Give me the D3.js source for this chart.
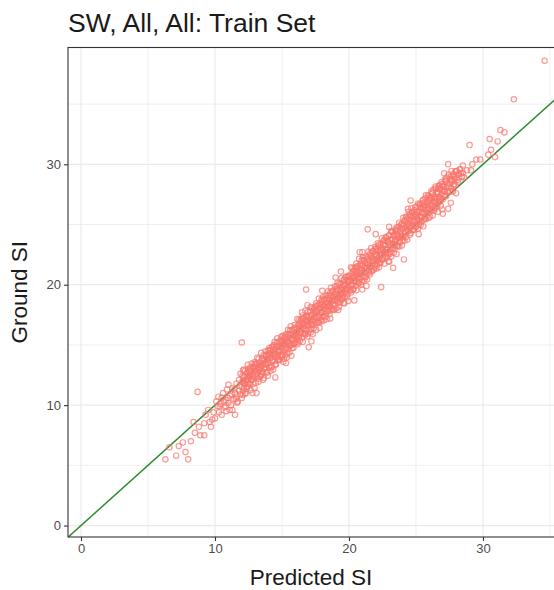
<!DOCTYPE html>
<html><head><meta charset="utf-8">
<script src="https://cdn.jsdelivr.net/npm/d3@7"></script>
<style>body{margin:0;background:#fff}</style>
</head><body>
<svg id="chart" width="554" height="590"></svg>
<script>
const titleText = "SW, All, All: Train Set";
const xLabel = "Predicted SI";
const yLabel = "Ground SI";
const xTicks = [0, 10, 20, 30];
const yTicks = [0, 10, 20, 30];
const xMinor = [5, 15, 25, 35];
const yMinor = [5, 15, 25, 35];
const xDomain = [-0.97, 35.45];
const yDomain = [-0.95, 39.7];
const refLine = [[-5, -5], [45, 45]];
// [predicted, ground] — sparse tails and outliers
const trainPoints = [
[6.3,5.5],[6.6,6.5],[7.1,5.8],[7.6,6.9],[7.8,6.1],[8.0,5.5],[8.2,7.0],[8.5,7.7],[8.7,11.1],[8.8,8.2],[8.9,7.5],[9.2,8.5],[9.2,7.5],[9.3,9.2],[9.7,8.2],[9.8,8.8],[9.5,9.6],[9.9,9.4],[10.0,8.9],[10.2,9.9],[9.6,8.6],[10.1,10.3],[7.3,6.6],[8.4,8.6],
[10.3,9.4],[10.4,10.1],[10.5,9.2],[10.5,10.6],[10.6,11.0],[10.7,9.8],[10.8,9.9],[10.8,10.4],[10.9,11.3],[11.0,11.7],[11.0,10.2],[11.1,9.6],[11.1,10.8],[11.2,10.0],[11.3,9.6],[11.3,11.4],[11.4,10.5],[11.5,9.2],[11.5,11.0],[11.6,10.7],[11.6,11.8],[11.7,10.3],[11.8,11.2],[11.8,12.1],[11.9,12.6],[11.9,10.9],[12.0,11.5],[12.0,10.6],[12.1,12.0],[12.1,11.2],[12.0,15.2],[12.1,12.9],
[10.35,9.9],[10.65,10.3],[10.95,10.6],[11.25,10.9],[11.45,11.3],[11.65,10.2],[11.85,11.6],[10.25,10.7],[10.85,9.5],[11.55,10.5],
[12.2,11.8],[12.2,12.4],[12.3,11.0],[12.3,12.0],[12.4,12.7],[12.4,11.5],[12.5,12.2],[12.5,13.0],[12.6,11.8],[12.6,12.5],[12.7,12.9],[12.7,12.1],[12.8,11.0],[12.8,12.6],[12.9,13.2],[12.9,12.3],[13.0,12.8],[13.0,13.4],[13.1,11.0],[13.1,12.6],[13.2,13.1],[13.2,12.2],[13.3,13.5],[13.3,12.9],[13.4,12.4],[13.4,13.3],[13.5,13.9],[13.5,12.8],[13.6,13.4],[13.6,12.1],[13.7,13.7],[13.7,13.0],[13.8,14.1],[13.8,13.4],[13.9,12.7],[13.9,13.8],[14.0,14.3],[14.0,13.5],
[14.1,13.9],[14.1,14.6],[14.2,13.2],[14.2,14.2],[14.3,14.8],[14.3,13.7],[14.4,14.3],[14.4,15.0],[14.5,14.0],[14.5,13.4],[14.6,14.6],[14.6,15.2],[14.7,14.2],[14.7,13.8],[14.8,14.9],[14.8,14.5],[14.9,15.4],[14.9,14.0],[15.0,14.7],[15.0,15.3],[15.1,14.4],[15.1,13.6],[15.2,15.1],[15.2,15.7],[15.3,14.8],[15.3,15.4],[15.4,14.3],[15.4,15.9],[15.5,15.2],[15.5,14.9],[15.6,15.6],[15.6,16.2],[15.7,15.0],[15.7,14.1],[15.8,15.8],[15.8,15.4],[15.9,16.3],[15.9,15.1],[16.0,15.7],[16.0,16.4],[15.3,13.5],[14.5,12.3],
[16.1,15.5],[16.1,16.0],[16.2,16.6],[16.2,15.2],[16.3,16.3],[16.3,15.8],[16.4,17.0],[16.4,16.1],[16.5,15.6],[16.5,16.7],[16.6,16.4],[16.6,17.2],[16.7,15.9],[16.7,16.6],[16.8,17.4],[16.8,16.2],[16.9,16.9],[16.9,15.7],[17.0,17.3],[17.0,16.6],[17.1,17.8],[17.1,16.9],[17.2,16.3],[17.2,17.5],[17.3,17.1],[17.3,16.7],[17.4,18.0],[17.4,17.3],[17.5,16.8],[17.5,17.7],[17.6,18.3],[17.6,17.2],[17.7,16.9],[17.7,17.9],[17.8,18.4],[17.8,17.5],[17.9,17.1],[17.9,18.1],[18.0,18.6],[18.0,17.7],[16.9,18.3],[16.5,17.7],[17.3,15.9],[17.8,16.4],[16.8,19.6],[17.0,14.8],[17.2,15.3],
[18.1,18.2],[18.1,17.4],[18.2,18.8],[18.2,18.0],[18.3,17.6],[18.3,18.5],[18.4,19.1],[18.4,18.2],[18.5,17.8],[18.5,18.9],[18.6,18.5],[18.6,19.3],[18.7,18.0],[18.7,18.7],[18.8,19.5],[18.8,18.4],[18.9,19.0],[18.9,17.9],[19.0,19.4],[19.0,18.7],[19.1,19.9],[19.1,19.0],[19.2,18.5],[19.2,19.6],[19.3,19.2],[19.3,18.8],[19.4,20.1],[19.4,19.4],[19.5,18.9],[19.5,19.8],[19.6,20.4],[19.6,19.3],[19.7,19.0],[19.7,20.0],[19.8,20.6],[19.8,19.6],[19.9,19.2],[19.9,20.2],[20.0,20.7],[20.0,19.8],[18.6,17.2],[19.2,17.9],[18.0,19.5],[19.0,20.6],
[20.1,20.3],[20.1,19.5],[20.2,20.9],[20.2,20.0],[20.3,19.6],[20.3,20.6],[20.4,21.2],[20.4,20.3],[20.5,19.9],[20.5,20.9],[20.6,20.6],[20.6,21.4],[20.7,20.1],[20.7,20.8],[20.8,21.6],[20.8,20.5],[20.9,21.1],[20.9,20.0],[21.0,21.6],[21.0,22.7],[21.1,22.0],[21.1,21.1],[21.2,20.6],[21.2,21.8],[21.3,21.4],[21.3,20.9],[21.4,22.3],[21.4,24.6],[21.5,21.0],[21.5,22.0],[21.6,22.6],[21.6,21.5],[21.7,21.1],[21.7,22.2],[21.8,22.8],[21.8,21.8],[21.9,21.4],[21.9,22.5],[22.0,23.0],[22.0,22.0],[20.4,18.7],[21.0,19.6],[22.4,19.8],[19.4,21.1],[19.6,18.5],[20.8,22.7],[21.3,19.9],
[22.1,21.6],[22.1,22.4],[22.2,23.2],[22.2,22.1],[22.3,21.8],[22.3,22.8],[22.4,23.4],[22.4,22.5],[22.5,22.1],[22.5,23.0],[22.6,23.7],[22.6,22.7],[22.7,22.3],[22.7,23.3],[22.8,23.9],[22.8,22.9],[22.9,22.5],[22.9,23.5],[23.0,24.1],[23.0,24.8],[23.1,23.2],[23.1,22.7],[23.2,23.8],[23.2,24.4],[23.3,21.4],[23.3,23.4],[23.4,24.0],[23.4,23.0],[23.5,24.6],[23.5,23.7],[23.6,24.2],[23.6,23.2],[23.7,24.8],[23.7,23.9],[23.8,24.4],[23.8,23.5],[23.9,25.0],[23.9,24.1],[24.0,24.6],[24.0,23.7],[24.1,22.1],[22.0,24.2],[23.0,21.9],[24.4,26.3],
[24.1,24.9],[24.2,25.3],[24.2,24.3],[24.3,24.8],[24.3,25.6],[24.4,24.5],[24.4,25.1],[24.5,25.8],[24.5,24.9],[24.6,24.3],[24.6,25.4],[24.7,26.0],[24.7,25.1],[24.8,24.6],[24.8,25.7],[24.9,26.2],[24.9,25.3],[25.0,24.8],[25.0,25.9],[25.1,26.5],[25.1,25.5],[25.2,25.0],[25.2,26.1],[25.3,26.7],[25.3,25.7],[25.4,25.2],[25.4,26.3],[25.5,27.0],[25.5,26.0],[25.6,25.4],[25.6,26.6],[25.7,27.2],[25.7,26.2],[25.8,25.7],[25.8,26.8],[25.9,27.4],[25.9,26.4],[26.0,26.0],[26.0,27.0],[24.6,27.0],[25.2,24.2],
[26.1,26.6],[26.1,27.2],[26.2,26.2],[26.2,27.6],[26.3,26.9],[26.3,27.9],[26.4,26.5],[26.4,27.3],[26.5,28.0],[26.5,27.0],[26.6,26.7],[26.6,27.7],[26.7,28.2],[26.7,27.3],[26.8,26.9],[26.8,28.0],[26.9,28.5],[26.9,27.5],[27.0,27.1],[27.0,28.2],[27.0,25.9],[27.1,29.25],[27.1,27.8],[27.2,28.6],[27.2,27.4],[27.3,28.1],[27.3,28.9],[27.4,30.0],[27.4,26.3],[27.4,27.7],[27.5,28.4],[27.6,29.0],[27.6,28.0],[27.7,28.7],[27.8,29.2],[27.8,28.2],[27.9,28.8],[28.0,29.4],[28.1,28.7],[28.2,29.2],[28.3,29.6],[28.4,29.0],[28.5,29.9],[28.5,29.3],[28.6,28.9],[28.8,29.5],[29.0,31.6],[29.1,29.5],[29.2,30.0],[29.5,30.4],[29.8,30.4],[30.4,30.8],[30.5,32.1],[30.6,31.2],[30.9,30.6],[31.1,31.9],[31.3,32.85],[31.6,32.65],[32.3,35.4],[34.6,38.6],[28.0,27.6],[27.6,26.8]
];
// [predicted, ground] — dense core of the band
const corePoints = [
[12.05,10.85],[12.05,11.95],[12.05,12.45],[12.15,12.35],[12.15,11.45],[12.15,12.95],[12.25,11.75],[12.25,12.85],[12.25,10.95],[12.35,12.35],[12.35,11.35],[12.35,12.05],[12.45,13.35],[12.45,12.05],[12.45,11.55],[12.55,11.75],[12.55,12.85],[12.55,12.35],[12.65,13.15],[12.65,11.25],[12.65,12.75],[12.75,12.15],[12.75,12.45],[12.75,13.45],[12.85,13.15],[12.85,11.75],[12.85,12.35],[12.95,11.45],[12.95,13.05],[12.95,13.55],
[13.05,11.85],[13.05,12.95],[13.05,13.45],[13.15,13.35],[13.15,12.45],[13.15,13.95],[13.25,12.75],[13.25,13.85],[13.25,11.95],[13.35,13.35],[13.35,12.35],[13.35,13.05],[13.45,14.35],[13.45,13.05],[13.45,12.55],[13.55,12.75],[13.55,13.85],[13.55,13.35],[13.65,14.15],[13.65,12.25],[13.65,13.75],[13.75,13.15],[13.75,13.45],[13.75,14.45],[13.85,14.15],[13.85,12.75],[13.85,13.35],[13.95,12.45],[13.95,14.05],[13.95,14.55],
[14.05,14.15],[14.05,13.15],[14.05,14.75],[14.15,12.85],[14.15,13.95],[14.15,14.55],[14.25,14.85],[14.25,13.65],[14.25,13.15],[14.35,14.25],[14.35,12.95],[14.35,14.65],[14.45,13.65],[14.45,15.25],[14.45,14.15],[14.55,14.95],[14.55,14.05],[14.55,13.35],[14.65,13.95],[14.65,14.85],[14.65,15.55],[14.75,14.55],[14.75,13.75],[14.75,15.25],[14.85,13.75],[14.85,14.85],[14.85,14.45],[14.95,15.65],[14.95,14.15],[14.95,15.05],
[15.05,15.15],[15.05,14.15],[15.05,15.75],[15.15,13.85],[15.15,14.95],[15.15,15.55],[15.25,15.85],[15.25,14.65],[15.25,14.15],[15.35,15.25],[15.35,13.95],[15.35,15.65],[15.45,14.65],[15.45,16.25],[15.45,15.15],[15.55,15.95],[15.55,15.05],[15.55,14.35],[15.65,14.95],[15.65,15.85],[15.65,16.55],[15.75,15.55],[15.75,14.75],[15.75,16.25],[15.85,14.75],[15.85,15.85],[15.85,15.45],[15.95,16.65],[15.95,15.15],[15.95,15.75],
[16.05,15.25],[16.05,16.45],[16.05,16.05],[16.15,17.15],[16.15,15.75],[16.15,15.05],[16.25,16.45],[16.25,17.05],[16.25,15.65],[16.35,16.05],[16.35,15.35],[16.35,16.85],[16.45,17.15],[16.45,16.35],[16.45,15.95],[16.55,15.25],[16.55,16.85],[16.55,17.45],[16.65,16.75],[16.65,15.95],[16.65,17.25],[16.75,16.35],[16.75,17.85],[16.75,15.85],[16.85,17.35],[16.85,16.65],[16.85,17.05],[16.95,15.95],[16.95,17.75],[16.95,16.65],
[17.05,16.25],[17.05,17.45],[17.05,17.05],[17.15,18.15],[17.15,16.75],[17.15,16.05],[17.25,17.45],[17.25,18.05],[17.25,16.65],[17.35,17.05],[17.35,16.35],[17.35,17.85],[17.45,18.15],[17.45,17.35],[17.45,16.95],[17.55,16.25],[17.55,17.85],[17.55,18.45],[17.65,17.75],[17.65,16.95],[17.65,18.25],[17.75,17.35],[17.75,18.85],[17.75,16.85],[17.85,18.35],[17.85,17.65],[17.85,18.05],[17.95,16.95],[17.95,18.75],[17.95,17.65],
[18.05,18.35],[18.05,17.35],[18.05,18.95],[18.15,17.05],[18.15,18.15],[18.15,18.75],[18.25,19.05],[18.25,17.85],[18.25,17.35],[18.35,18.45],[18.35,17.15],[18.35,18.85],[18.45,17.85],[18.45,19.45],[18.45,18.35],[18.55,19.15],[18.55,18.25],[18.55,17.55],[18.65,18.15],[18.65,19.05],[18.65,19.75],[18.75,18.75],[18.75,17.95],[18.75,19.45],[18.85,17.95],[18.85,19.05],[18.85,18.65],[18.95,19.85],[18.95,18.35],[18.95,19.25],
[19.05,18.05],[19.05,19.15],[19.05,19.65],[19.15,19.55],[19.15,18.65],[19.15,20.15],[19.25,18.95],[19.25,20.05],[19.25,18.15],[19.35,19.55],[19.35,18.55],[19.35,19.25],[19.45,20.55],[19.45,19.25],[19.45,18.75],[19.55,18.95],[19.55,20.05],[19.55,19.55],[19.65,20.35],[19.65,18.45],[19.65,19.95],[19.75,19.35],[19.75,19.65],[19.75,20.65],[19.85,20.35],[19.85,18.95],[19.85,19.55],[19.95,18.65],[19.95,20.25],[19.95,20.75],
[20.05,19.55],[20.05,20.75],[20.05,20.35],[20.15,21.45],[20.15,20.05],[20.15,19.35],[20.25,20.75],[20.25,21.35],[20.25,19.95],[20.35,20.35],[20.35,19.65],[20.35,21.15],[20.45,21.45],[20.45,20.65],[20.45,20.25],[20.55,19.55],[20.55,21.15],[20.55,21.75],[20.65,21.05],[20.65,20.25],[20.65,21.55],[20.75,20.65],[20.75,22.15],[20.75,20.15],[20.85,21.65],[20.85,20.95],[20.85,21.35],[20.95,20.25],[20.95,22.05],[20.95,20.95],
[21.05,21.65],[21.05,20.65],[21.05,22.25],[21.15,20.35],[21.15,21.45],[21.15,22.05],[21.25,22.35],[21.25,21.15],[21.25,20.65],[21.35,21.75],[21.35,20.45],[21.35,22.15],[21.45,21.15],[21.45,22.75],[21.45,21.65],[21.55,22.45],[21.55,21.55],[21.55,20.85],[21.65,21.45],[21.65,22.35],[21.65,23.05],[21.75,22.05],[21.75,21.25],[21.75,22.75],[21.85,21.25],[21.85,22.35],[21.85,21.95],[21.95,23.15],[21.95,21.65],[21.95,22.55],
[22.05,21.35],[22.05,22.45],[22.05,22.95],[22.15,22.85],[22.15,21.95],[22.15,23.45],[22.25,22.25],[22.25,23.35],[22.25,21.45],[22.35,22.85],[22.35,21.85],[22.35,22.55],[22.45,23.85],[22.45,22.55],[22.45,22.05],[22.55,22.25],[22.55,23.35],[22.55,22.85],[22.65,23.65],[22.65,21.75],[22.65,23.25],[22.75,22.65],[22.75,22.95],[22.75,23.95],[22.85,23.65],[22.85,22.25],[22.85,22.85],[22.95,21.95],[22.95,23.55],[22.95,24.05],
[23.05,22.55],[23.05,23.75],[23.05,23.35],[23.15,24.45],[23.15,23.05],[23.15,22.35],[23.25,23.75],[23.25,24.35],[23.25,22.95],[23.35,23.35],[23.35,22.65],[23.35,24.15],[23.45,24.45],[23.45,23.65],[23.45,23.25],[23.55,22.55],[23.55,24.15],[23.55,24.75],[23.65,24.05],[23.65,23.25],[23.65,24.55],[23.75,23.65],[23.75,25.15],[23.75,23.15],[23.85,24.65],[23.85,23.95],[23.85,24.35],[23.95,23.25],[23.95,25.05],[23.95,23.95],
[24.05,24.95],[24.05,23.95],[24.05,25.55],[24.15,23.65],[24.15,24.75],[24.15,25.35],[24.25,25.65],[24.25,24.45],[24.25,23.95],[24.35,25.05],[24.35,23.75],[24.35,25.45],[24.45,24.45],[24.45,26.05],[24.45,24.95],[24.55,25.75],[24.55,24.85],[24.55,24.15],[24.65,24.75],[24.65,25.65],[24.65,26.35],[24.75,25.35],[24.75,24.55],[24.75,26.05],[24.85,24.55],[24.85,25.65],[24.85,25.25],[24.95,26.45],[24.95,24.95],[24.95,25.85],
[25.05,24.85],[25.05,26.05],[25.05,25.65],[25.15,26.75],[25.15,25.35],[25.15,24.65],[25.25,26.05],[25.25,26.65],[25.25,25.25],[25.35,25.65],[25.35,24.95],[25.35,26.45],[25.45,26.75],[25.45,25.95],[25.45,25.55],[25.55,24.85],[25.55,26.45],[25.55,27.05],[25.65,26.35],[25.65,25.55],[25.65,26.85],[25.75,25.95],[25.75,27.45],[25.75,25.45],[25.85,26.95],[25.85,26.25],[25.85,26.65],[25.95,25.55],[25.95,27.35],[25.95,26.25],
[26.05,25.65],[26.05,26.75],[26.05,27.25],[26.15,27.15],[26.15,26.25],[26.15,27.75],[26.25,26.55],[26.25,27.65],[26.25,25.75],[26.35,27.15],[26.35,26.15],[26.35,26.85],[26.45,28.15],[26.45,26.85],[26.45,26.35],[26.55,26.55],[26.55,27.65],[26.55,27.15],[26.65,27.95],[26.65,26.05],[26.65,27.55],[26.75,26.95],[26.75,27.25],[26.75,28.25],[26.85,27.95],[26.85,26.55],[26.85,27.15],[26.95,26.25],[26.95,27.85],[26.95,28.35],
[27.05,28.15],[27.05,27.35],[27.15,27.75],[27.15,28.75],[27.25,28.65],[27.25,27.35],[27.35,27.75],[27.35,28.35],[27.45,29.15],[27.45,28.15],[27.55,27.75],[27.55,28.75],[27.65,28.55],[27.65,29.45],[27.75,27.75],[27.75,29.05],[27.85,28.95],[27.85,28.35],[27.95,29.45],[27.95,28.25],[28.05,28.85],[28.05,29.45],[28.15,28.55],[28.25,29.55],[28.35,29.25],[28.45,28.95]
];
const allPoints = trainPoints.concat(corePoints);

const svg = d3.select("#chart");
const panel = {left: 68, top: 47.5, right: 556, bottom: 537};
const x = d3.scaleLinear().domain(xDomain).range([panel.left, panel.right]);
const y = d3.scaleLinear().domain(yDomain).range([panel.bottom, panel.top]);
const font = "'Liberation Sans', Arial, sans-serif";

svg.append("defs").append("clipPath").attr("id","clip")
  .append("rect").attr("x",panel.left).attr("y",panel.top)
  .attr("width",panel.right-panel.left).attr("height",panel.bottom-panel.top);

const g = svg.append("g").attr("clip-path","url(#clip)");

g.selectAll(".xmin").data(xMinor).join("line")
  .attr("x1",d=>x(d)).attr("x2",d=>x(d)).attr("y1",panel.top).attr("y2",panel.bottom)
  .attr("stroke","#EBEBEB").attr("stroke-width",0.8);
g.selectAll(".ymin").data(yMinor).join("line")
  .attr("y1",d=>y(d)).attr("y2",d=>y(d)).attr("x1",panel.left).attr("x2",panel.right)
  .attr("stroke","#EBEBEB").attr("stroke-width",0.8);
g.selectAll(".xmaj").data(xTicks).join("line")
  .attr("x1",d=>x(d)).attr("x2",d=>x(d)).attr("y1",panel.top).attr("y2",panel.bottom)
  .attr("stroke","#EBEBEB").attr("stroke-width",1.2);
g.selectAll(".ymaj").data(yTicks).join("line")
  .attr("y1",d=>y(d)).attr("y2",d=>y(d)).attr("x1",panel.left).attr("x2",panel.right)
  .attr("stroke","#EBEBEB").attr("stroke-width",1.2);

g.append("line")
  .attr("x1",x(refLine[0][0])).attr("y1",y(refLine[0][1]))
  .attr("x2",x(refLine[1][0])).attr("y2",y(refLine[1][1]))
  .attr("stroke","#2E8B2E").attr("stroke-width",1.5);

g.selectAll(".pt").data(allPoints).join("circle")
  .attr("cx",d=>x(d[0])).attr("cy",d=>y(d[1])).attr("r",2.7)
  .attr("fill","none").attr("stroke","#F8766D").attr("stroke-opacity",0.72).attr("stroke-width",1.2);

svg.append("rect").attr("x",panel.left).attr("y",panel.top)
  .attr("width",panel.right-panel.left).attr("height",panel.bottom-panel.top)
  .attr("fill","none").attr("stroke","#333333").attr("stroke-width",1.1);

const xAxis = d3.axisBottom(x).tickValues(xTicks).tickSize(4).tickPadding(3);
const yAxis = d3.axisLeft(y).tickValues(yTicks).tickSize(4).tickPadding(3);
const gx = svg.append("g").attr("transform",`translate(0,${panel.bottom})`).call(xAxis);
const gy = svg.append("g").attr("transform",`translate(${panel.left},0)`).call(yAxis);
[gx, gy].forEach(a=>{
  a.select(".domain").remove();
  a.selectAll(".tick line").attr("stroke","#333333").attr("stroke-width",1.1);
  a.selectAll(".tick text").attr("fill","#4D4D4D").style("font-family",font).style("font-size","13px");
});

svg.append("text").attr("x",68).attr("y",32).text(titleText)
  .style("font-family",font).style("font-size","26.5px").attr("fill","#1a1a1a");
svg.append("text").attr("x",(panel.left+554)/2).attr("y",585).attr("text-anchor","middle").text(xLabel)
  .style("font-family",font).style("font-size","22.5px").attr("fill","#1a1a1a");
svg.append("text").attr("transform",`translate(27,${(panel.top+panel.bottom)/2}) rotate(-90)`)
  .attr("text-anchor","middle").text(yLabel)
  .style("font-family",font).style("font-size","22.5px").attr("fill","#1a1a1a");
</script>
</body></html>
